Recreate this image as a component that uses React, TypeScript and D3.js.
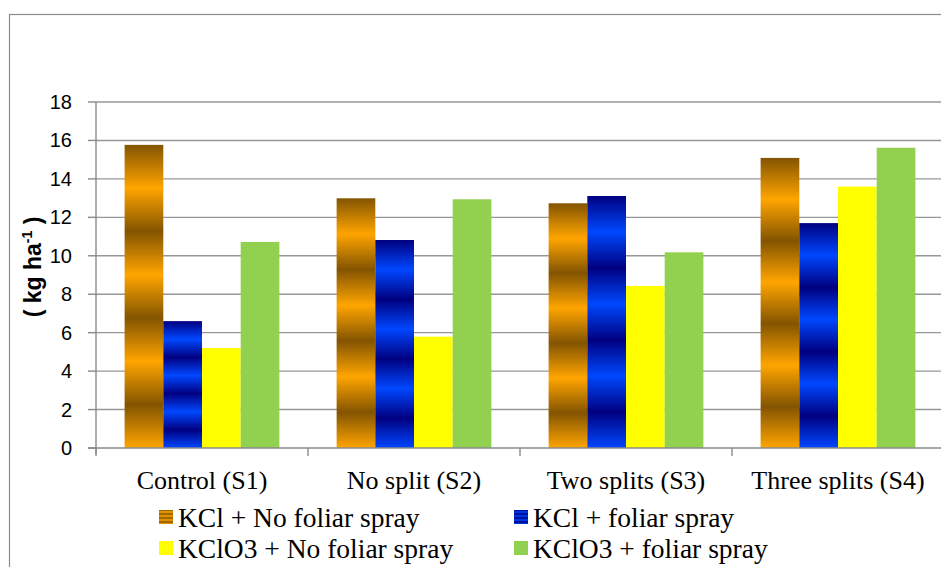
import { useEffect, useRef } from "react";
import * as d3 from "d3";

const categories = ["Control (S1)", "No split (S2)", "Two splits (S3)", "Three splits (S4)"];
const seriesNames = [
    "KCl + No foliar spray",
    "KCl + foliar spray",
    "KClO3 + No foliar spray",
    "KClO3 + foliar spray",
];
// values per series, one per category
const kclNoSpray = [15.77, 12.99, 12.73, 15.09];
const kclSpray = [6.6, 10.82, 13.11, 11.7];
const kclo3NoSpray = [5.2, 5.79, 8.43, 13.6];
const kclo3Spray = [10.72, 12.94, 10.18, 15.62];
const yTicks = [0, 2, 4, 6, 8, 10, 12, 14, 16, 18];

const seriesValues = [kclNoSpray, kclSpray, kclo3NoSpray, kclo3Spray];
const fills = ["url(#gOrange)", "url(#gBlue)", "#ffff00", "#92d050"];

export default function App() {
    const ref = useRef<SVGSVGElement>(null);

    useEffect(() => {
        if (!ref.current) return;
        const svg = d3.select(ref.current);
        svg.selectAll("*").remove();

        const left = 96;
        const right = 944;
        const top = 102;
        const bottom = 448;

        // gradients (stripes that stretch with each bar)
        const defs = svg.append("defs");
        const stripes = (id: string, dark: string, light: string) => {
            const g = defs
                .append("linearGradient")
                .attr("id", id)
                .attr("x1", 0)
                .attr("y1", 0)
                .attr("x2", 0)
                .attr("y2", 1);
            for (let i = 0; i <= 7; i++) {
                g.append("stop")
                    .attr("offset", i / 7)
                    .attr("stop-color", i % 2 === 0 ? dark : light);
            }
        };
        stripes("gOrange", "#835400", "#ffa500");
        stripes("gBlue", "#000080", "#0047ff");

        // frame
        svg.append("rect")
            .attr("x", 9.5)
            .attr("y", 14.5)
            .attr("width", 1000)
            .attr("height", 600)
            .attr("fill", "none")
            .attr("stroke", "#8a8a8a")
            .attr("stroke-width", 1.2);

        const x0 = d3.scaleBand<string>()
            .domain(categories)
            .range([left, right])
            .paddingInner(0.27)
            .paddingOuter(0.135);
        const x1 = d3.scaleBand<number>()
            .domain(d3.range(seriesNames.length))
            .range([0, x0.bandwidth()]);
        const y = d3.scaleLinear().domain([0, 18]).range([bottom, top]);
        const step = x0.step();

        // grid
        svg.append("g")
            .selectAll("line")
            .data(yTicks.filter((t) => t > 0))
            .join("line")
            .attr("x1", left)
            .attr("x2", right)
            .attr("y1", (d) => y(d))
            .attr("y2", (d) => y(d))
            .attr("stroke", "#979797")
            .attr("stroke-width", 1.4);

        // bars
        const group = svg.append("g")
            .selectAll("g")
            .data(categories)
            .join("g")
            .attr("transform", (d) => `translate(${x0(d)},0)`);
        group.selectAll("rect")
            .data((_, ci) => seriesValues.map((vals, si) => ({ si, v: vals[ci] })))
            .join("rect")
            .attr("x", (d) => x1(d.si)!)
            .attr("width", x1.bandwidth())
            .attr("y", (d) => y(d.v))
            .attr("height", (d) => y(0) - y(d.v))
            .attr("fill", (d) => fills[d.si]);

        // y axis
        const yAxis = svg.append("g").attr("stroke", "#8a8a8a").attr("stroke-width", 1.4);
        yAxis.append("line")
            .attr("x1", left).attr("x2", left)
            .attr("y1", top).attr("y2", bottom + 6);
        yAxis.selectAll("line.tk")
            .data(yTicks)
            .join("line")
            .attr("class", "tk")
            .attr("x1", left - 8).attr("x2", left)
            .attr("y1", (d) => y(d)).attr("y2", (d) => y(d));
        svg.append("g")
            .selectAll("text")
            .data(yTicks)
            .join("text")
            .attr("x", 72)
            .attr("y", (d) => y(d) + 7)
            .attr("text-anchor", "end")
            .attr("font-family", "Liberation Sans, Arial, sans-serif")
            .attr("font-size", 20)
            .attr("fill", "#000")
            .text((d) => d);

        // x axis
        const xAxis = svg.append("g").attr("stroke", "#8a8a8a").attr("stroke-width", 1.4);
        xAxis.append("line")
            .attr("x1", left - 8).attr("x2", right)
            .attr("y1", bottom).attr("y2", bottom);
        xAxis.selectAll("line.tk")
            .data(d3.range(categories.length + 1))
            .join("line")
            .attr("class", "tk")
            .attr("x1", (i) => left + i * step).attr("x2", (i) => left + i * step)
            .attr("y1", bottom).attr("y2", bottom + 8);
        svg.append("g")
            .selectAll("text")
            .data(categories)
            .join("text")
            .attr("x", (d) => x0(d)! + x0.bandwidth() / 2)
            .attr("y", 489)
            .attr("text-anchor", "middle")
            .attr("font-family", "Liberation Serif, Times New Roman, serif")
            .attr("font-size", 26)
            .text((d) => d);

        // y title
        const title = svg.append("text")
            .attr("transform", "translate(41,267) rotate(-90)")
            .attr("text-anchor", "middle")
            .attr("font-family", "Liberation Sans, Arial, sans-serif")
            .attr("font-weight", "bold")
            .attr("font-size", 23);
        title.append("tspan").text("( kg ha");
        title.append("tspan").attr("font-size", 14).attr("dy", -9).text("-1");
        title.append("tspan").attr("dy", 9).text(" )");

        // legend
        const legendX = [159, 514];
        const legendY = [517, 548];
        const item = svg.append("g")
            .selectAll("g")
            .data(seriesNames)
            .join("g")
            .attr("transform", (_, i) => `translate(${legendX[i % 2]},${legendY[Math.floor(i / 2)]})`);
        item.append("rect")
            .attr("x", 0)
            .attr("y", -7)
            .attr("width", 14)
            .attr("height", 14)
            .attr("fill", (_, i) => fills[i]);
        item.append("text")
            .attr("x", 19)
            .attr("y", 9.5)
            .attr("font-family", "Liberation Serif, Times New Roman, serif")
            .attr("font-size", 27.5)
            .text((d) => d);
    }, []);

    return (
        <svg
            ref={ref}
            width={941}
            height={567}
            style={{ position: "absolute", left: 0, top: 0, background: "#fff" }}
        />
    );
}
